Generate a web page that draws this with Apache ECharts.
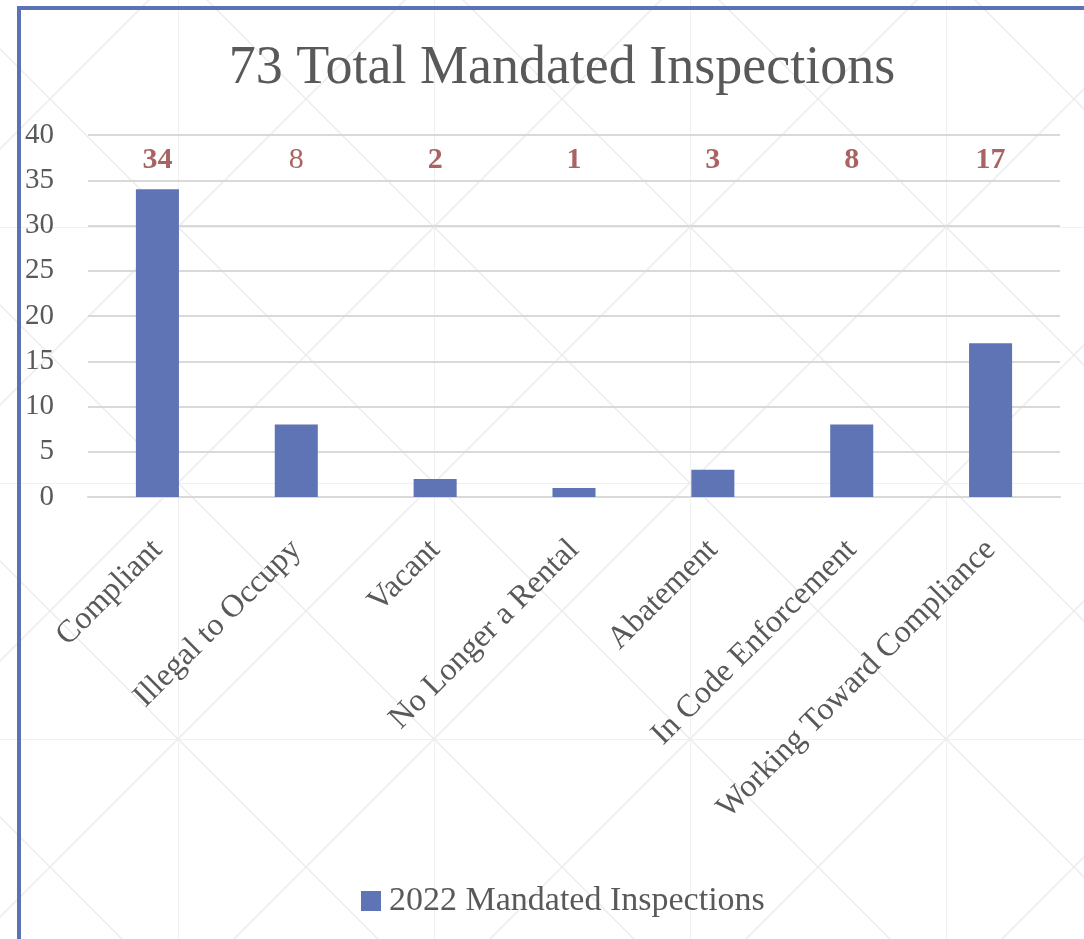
<!DOCTYPE html>
<html>
<head>
<meta charset="utf-8">
<script src="https://cdn.jsdelivr.net/npm/echarts@6/dist/echarts.min.js"></script>
<style>
  html, body {
    margin: 0;
    padding: 0;
    width: 1084px;
    height: 939px;
    overflow: hidden;
    /* faint slide pattern behind the chart */
    background-color: #fff;
    background-image: url("data:image/svg+xml,%3Csvg xmlns='http://www.w3.org/2000/svg' width='256' height='256'%3E%3Cpath d='M0 0H256M0 0V256M0 0L256 256M256 0L0 256' stroke='%23ececec' stroke-width='1.5' fill='none'/%3E%3C/svg%3E");
    background-position: 178px 227px;
  }
  .frame {
    position: absolute;
    left: 17px;
    top: 6px;
    width: 1100px;
    height: 960px;
    border-left: 4px solid #5b73b5;
    border-top: 4px solid #5b73b5;
  }
  #chart {
    position: absolute;
    left: 0;
    top: 0;
    width: 1084px;
    height: 939px;
  }
</style>
</head>
<body>
<div class="frame"></div>
<div id="chart"></div>
<script>
  // categories and counts
  const categories = ['Compliant', 'Illegal to Occupy', 'Vacant', 'No Longer a Rental', 'Abatement', 'In Code Enforcement', 'Working Toward Compliance'];
  const inspections = [34, 8, 2, 1, 3, 8, 17];
  const labelBold = [true, false, true, true, true, true, true];
  const yMin = 0;
  const yMax = 40;
  const yStep = 5;
  const labelRow = 37.2;   // value height where the count labels sit

  const serif = '"Liberation Serif", "DejaVu Serif", serif';
  const textGray = '#595959';

  let myChart = echarts.init(document.getElementById('chart'));
  myChart.setOption({
    backgroundColor: 'transparent',
    title: {
      text: '73 Total Mandated Inspections',
      left: 557,
      textAlign: 'center',
      top: 37,
      textStyle: {
        fontFamily: serif,
        fontWeight: 'normal',
        fontSize: 54,
        color: textGray
      }
    },
    legend: {
      data: ['2022 Mandated Inspections'],
      left: 356,
      top: 879,
      itemWidth: 20,
      itemHeight: 20,
      icon: 'rect',
      textStyle: {
        fontFamily: serif,
        fontSize: 34,
        color: textGray,
        padding: [0, 0, 0, 3]
      }
    },
    grid: {
      left: 88,
      right: 24,
      top: 135,
      bottom: 442,
      containLabel: false
    },
    xAxis: {
      type: 'category',
      data: categories,
      axisLine: { show: true, lineStyle: { color: '#d9d9d9', width: 2 } },
      axisTick: { show: false },
      axisLabel: {
        rotate: 45,
        interval: 0,
        margin: 48,
        fontFamily: serif,
        fontSize: 32,
        color: textGray
      }
    },
    yAxis: {
      type: 'value',
      min: yMin,
      max: yMax,
      interval: yStep,
      axisLine: { show: false },
      axisTick: { show: false },
      splitLine: { lineStyle: { color: '#d9d9d9', width: 2 } },
      axisLabel: {
        margin: 34,
        fontFamily: serif,
        fontSize: 29,
        color: textGray
      }
    },
    series: [{
      name: '2022 Mandated Inspections',
      type: 'bar',
      barWidth: '31%',
      itemStyle: { color: '#5e74b5' },
      data: inspections
    }, {
      name: 'counts',
      type: 'scatter',
      symbolSize: 0,
      silent: true,
      data: categories.map((c, i) => ({
        value: [c, labelRow],
        label: { fontWeight: labelBold[i] ? 'bold' : 'normal' }
      })),
      label: {
        show: true,
        position: 'inside',
        fontFamily: serif,
        fontSize: 30,
        color: '#943c3c',
        formatter: (p) => String(inspections[p.dataIndex])
      }
    }]
  });
</script>
</body>
</html>
